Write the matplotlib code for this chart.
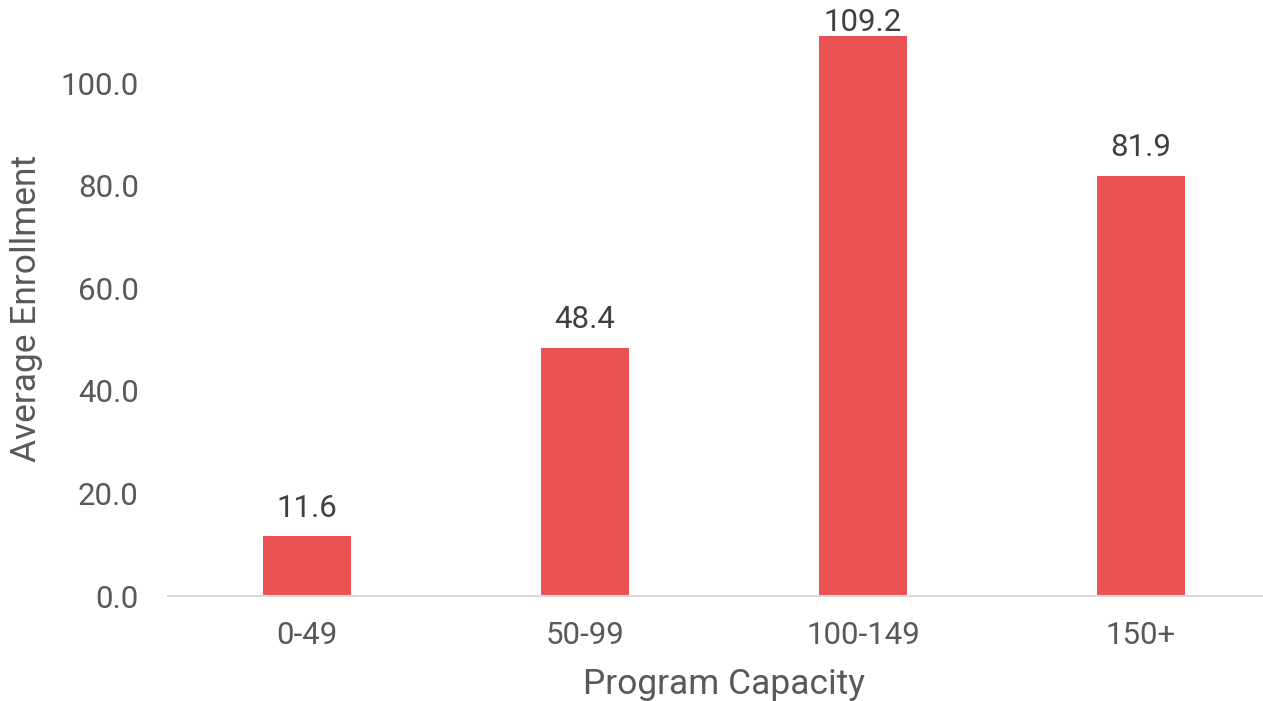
import matplotlib
matplotlib.use("Agg")
import matplotlib.pyplot as plt

categories = ["0-49", "50-99", "100-149", "150+"]
avg_enrollment = [11.6, 48.4, 109.2, 81.9]
y_ticks = [0, 20, 40, 60, 80, 100]

plt.rcParams["font.family"] = ["Roboto", "DejaVu Sans"]

W, H, DPI = 1263, 701, 100
fig = plt.figure(figsize=(W / DPI, H / DPI), dpi=DPI)

# plot area in pixels: x from 168 spanning 4 category slots, y baseline at 596
left_px, slot_px = 168, 278
bottom_px = H - 596
ymax = 112
px_per_unit = 5.13
ax = fig.add_axes([left_px / W, bottom_px / H,
                   slot_px * len(categories) / W, ymax * px_per_unit / H])

x = list(range(len(categories)))
bar_color = "#EB5254"
ax.bar(x, avg_enrollment, width=0.313, color=bar_color, zorder=2)

ax.set_xlim(-0.5, len(categories) - 0.5)
ax.set_ylim(0, ymax)
ax.set_xticks(x)
ax.set_xticklabels(categories)
ax.set_yticks(y_ticks)
ax.set_yticklabels([f"{t:.1f}" for t in y_ticks])

tick_color = "#595959"
ax.tick_params(axis="both", length=0, labelsize=22.5, colors=tick_color)
ax.tick_params(axis="y", pad=21)
ax.tick_params(axis="x", pad=18)

for side in ["top", "right", "left"]:
    ax.spines[side].set_visible(False)
ax.spines["bottom"].set_color("#D9D9D9")
ax.spines["bottom"].set_linewidth(1.5)
ax.spines["bottom"].set_zorder(3)

ax.set_ylabel("Average Enrollment", fontsize=25.5, color=tick_color, labelpad=13)
ax.set_xlabel("Program Capacity", fontsize=25.5, color=tick_color, labelpad=13)

labels = []
for xi, v in zip(x, avg_enrollment):
    t = ax.annotate(f"{v:.1f}", (xi, v), xytext=(0, 10), textcoords="offset points",
                    ha="center", va="bottom", fontsize=22.5, color="#404040",
                    annotation_clip=False)
    labels.append(t)

# keep value labels inside the figure
fig.canvas.draw()
renderer = fig.canvas.get_renderer()
for t in labels:
    bb = t.get_window_extent(renderer)
    top_limit = H - 8
    if bb.y1 > top_limit:
        shift_px = bb.y1 - top_limit
        dx, dy = t.xyann
        t.xyann = (dx, dy - shift_px * 72 / DPI)

fig.savefig("out.png", dpi=DPI)
